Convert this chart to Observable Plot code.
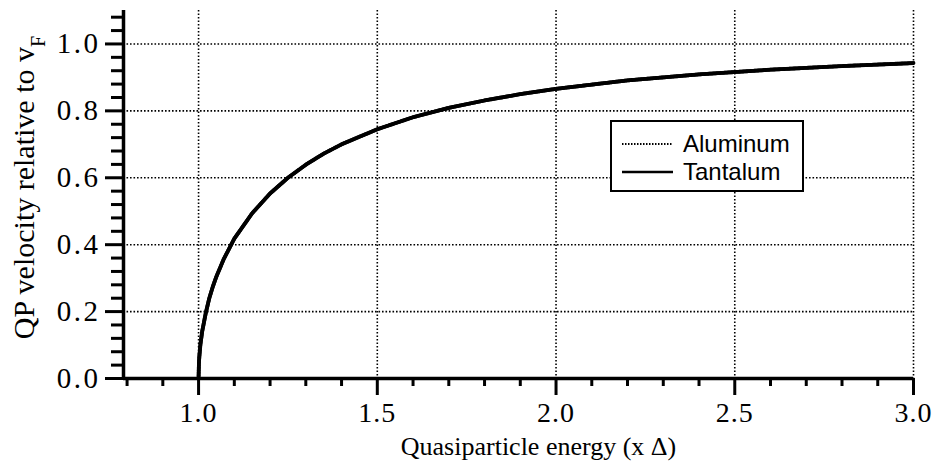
<!DOCTYPE html>
<html>
<head>
<meta charset="utf-8">
<script src="https://cdn.jsdelivr.net/npm/d3@7"></script>
<script src="https://cdn.jsdelivr.net/npm/@observablehq/plot@0.6"></script>
<style>
  html, body { margin: 0; padding: 0; background: #fff; }
  #chart { position: relative; width: 933px; height: 468px; }
  #chart svg g[aria-label="y-axis tick label"] text { letter-spacing: 2.5px; }
  #chart svg g[aria-label="x-axis tick label"] text { letter-spacing: 1px; }
  #legend {
    position: absolute; left: 610px; top: 120px; width: 190px; height: 68px;
    border: 2px solid #000; background: #fff;
    font-family: "Liberation Sans", Arial, sans-serif; font-size: 24px; color: #000;
  }
  #legend .row { position: absolute; left: 0; height: 28px; width: 100%; }
  #legend svg { position: absolute; left: 10px; top: 0; }
  #legend span { position: absolute; left: 71px; top: 0; line-height: 28px; }
</style>
</head>
<body>
<div id="chart"></div>
<script>
// Quasiparticle energy in units of the gap, and group velocity relative to v_F
const energy     = [1.000, 1.001, 1.002, 1.005, 1.010, 1.020, 1.030, 1.040, 1.050, 1.070,
                    1.100, 1.150, 1.200, 1.250, 1.300, 1.350, 1.400, 1.500, 1.600, 1.700,
                    1.800, 1.900, 2.000, 2.200, 2.400, 2.600, 2.800, 3.000];
const aluminumV  = [0.000, 0.045, 0.063, 0.100, 0.140, 0.195, 0.240, 0.275, 0.305, 0.356,
                    0.418, 0.494, 0.553, 0.600, 0.639, 0.672, 0.700, 0.745, 0.781, 0.809,
                    0.831, 0.850, 0.866, 0.891, 0.909, 0.923, 0.934, 0.943];
const tantalumV  = [0.000, 0.045, 0.063, 0.100, 0.140, 0.195, 0.240, 0.275, 0.305, 0.356,
                    0.418, 0.494, 0.553, 0.600, 0.639, 0.672, 0.700, 0.745, 0.781, 0.809,
                    0.831, 0.850, 0.866, 0.891, 0.909, 0.923, 0.934, 0.943];

const seriesNames = ["Aluminum", "Tantalum"];

// Axis ticks
const xDomain      = [0.79, 3.0];
const yDomain      = [0, 1.1];
const xMajorTicks  = [1.0, 1.5, 2.0, 2.5, 3.0];
const xMinorTicks  = [0.8, 0.9, 1.1, 1.2, 1.3, 1.4, 1.6, 1.7, 1.8, 1.9,
                      2.1, 2.2, 2.3, 2.4, 2.6, 2.7, 2.8, 2.9];
const yMajorTicks  = [0.0, 0.2, 0.4, 0.6, 0.8, 1.0];
const yMinorTicks  = [0.04, 0.08, 0.12, 0.16, 0.24, 0.28, 0.32, 0.36, 0.44, 0.48, 0.52, 0.56,
                      0.64, 0.68, 0.72, 0.76, 0.84, 0.88, 0.92, 0.96, 1.04, 1.08];

const xTitle = "Quasiparticle energy (x \u0394)";
const yTitle = "QP velocity relative to vF";

const al = energy.map((e, i) => ({e, v: aluminumV[i]}));
const ta = energy.map((e, i) => ({e, v: tantalumV[i]}));

const dotted = {stroke: "#000", strokeWidth: 1.6, strokeDasharray: "1.6,1.9", strokeOpacity: 1};

const chart = Plot.plot({
  width: 933,
  height: 468,
  marginLeft: 123,
  marginRight: 20,
  marginTop: 10,
  marginBottom: 90,
  x: {domain: xDomain},
  y: {domain: yDomain},
  style: {fontFamily: "'Liberation Serif', 'Times New Roman', serif", fontSize: "29px", color: "#000", background: "#fff"},
  marks: [
    Plot.gridX(xMajorTicks, dotted),
    Plot.gridY(yMajorTicks.filter(d => d > 0), dotted),
    Plot.axisX({ticks: xMinorTicks, tickSize: 8, tickFormat: () => "", label: null, strokeWidth: 3}),
    Plot.axisX({ticks: xMajorTicks, tickSize: 17, tickPadding: 7, tickFormat: d3.format(".1f"), label: null, strokeWidth: 3, fontSize: 28}),
    Plot.axisY({ticks: yMinorTicks, tickSize: 12, tickFormat: () => "", label: null, strokeWidth: 3}),
    Plot.axisY({ticks: yMajorTicks, tickSize: 18, tickPadding: 5, tickFormat: d3.format(".1f"), label: null, strokeWidth: 3, fontSize: 29}),
    Plot.ruleY([yDomain[0]], {strokeWidth: 3.5}),
    Plot.ruleX([xDomain[0]], {strokeWidth: 3.5}),
    Plot.line(ta, {x: "e", y: "v", stroke: "#000", strokeWidth: 3.8}),
    Plot.line(al, {x: "e", y: "v", stroke: "#000", strokeWidth: 3.8, strokeDasharray: "1.5,1"}),
    Plot.text([xTitle], {frameAnchor: "bottom", textAnchor: "middle", lineAnchor: "middle", dx: 20, dy: 68, fontSize: 26, text: d => d}),
    Plot.text([yTitle], {frameAnchor: "left", textAnchor: "middle", lineAnchor: "middle", dx: -99, dy: -7, rotate: -90, fontSize: 30, text: d => d, className: "ytitle"})
  ]
});

// Subscript F on the velocity label
d3.select(chart).select(".ytitle text").each(function() {
  const t = d3.select(this);
  t.text(null);
  t.append("tspan").text("QP velocity relative to v");
  t.append("tspan").attr("baseline-shift", "sub").attr("font-size", "20").text("F");
});

const root = document.getElementById("chart");
root.appendChild(chart);

// Legend
const legend = d3.select(root).append("div").attr("id", "legend");
seriesNames.forEach((name, i) => {
  const row = legend.append("div").attr("class", "row").style("top", (8 + i * 28) + "px");
  const s = row.append("svg").attr("width", 52).attr("height", 28);
  s.append("line").attr("x1", 0).attr("x2", 51).attr("y1", 14).attr("y2", 14)
    .attr("stroke", "#000")
    .attr("stroke-width", i === 0 ? 2 : 2.5)
    .attr("stroke-dasharray", i === 0 ? "1.5,1.5" : null);
  row.append("span").text(name);
});
</script>
</body>
</html>
